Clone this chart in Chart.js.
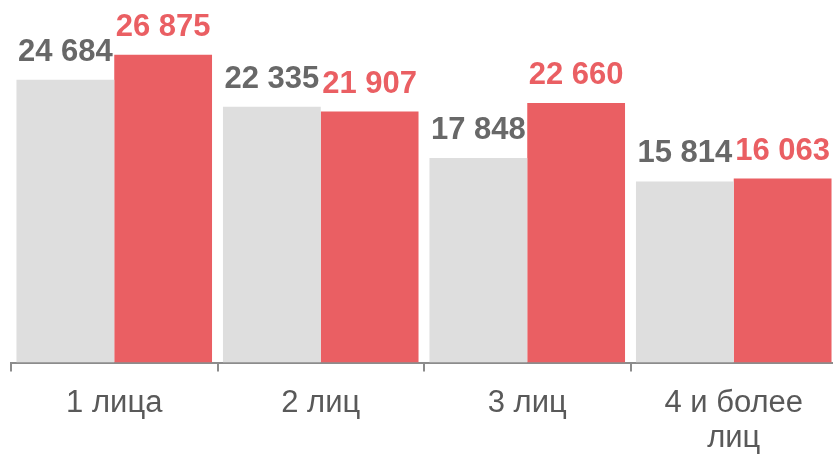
<!DOCTYPE html>
<html>
<head>
<meta charset="utf-8">
<script src="https://cdn.jsdelivr.net/npm/chart.js@4"></script>
<style>
html,body{margin:0;padding:0;background:#fff;overflow:hidden;}
#wrap{width:837px;height:454px;position:relative;}
</style>
</head>
<body>
<div id="wrap"><canvas id="c"></canvas></div>
<script>
const categories = ['1 лица', '2 лиц', '3 лиц', ['4 и более', 'лиц']];
const seriesGrey = [24684, 22335, 17848, 15814];
const seriesRed = [26875, 21907, 22660, 16063];
const yMax = 31650;

const greyBar = '#dedede';
const redBar = '#ea5f63';
const greyText = '#686868';
const redText = '#ea5f63';

function fmt(v){ return String(v).replace(/\B(?=(\d{3})+(?!\d))/g, ' '); }

const valueLabels = {
  id: 'valueLabels',
  afterDatasetsDraw(chart){
    const ctx = chart.ctx;
    ctx.save();
    ctx.font = 'bold 31px "Liberation Sans", Arial, sans-serif';
    ctx.textAlign = 'center';
    ctx.textBaseline = 'alphabetic';
    chart.data.datasets.forEach((ds, i) => {
      const meta = chart.getDatasetMeta(i);
      ctx.fillStyle = ds.labelColor;
      meta.data.forEach((bar, j) => {
        ctx.fillText(fmt(ds.data[j]), bar.x, bar.y - 19);
      });
    });
    ctx.restore();
  }
};

new Chart(document.getElementById('c'), {
  type: 'bar',
  data: {
    labels: categories,
    datasets: [
      { data: seriesGrey, backgroundColor: greyBar, labelColor: greyText, barPercentage: 1, categoryPercentage: 0.947 },
      { data: seriesRed, backgroundColor: redBar, labelColor: redText, barPercentage: 1, categoryPercentage: 0.947 }
    ]
  },
  options: {
    responsive: true,
    maintainAspectRatio: false,
    animation: false,
    layout: { padding: { left: 11, right: 0, top: 0, bottom: -17 } },
    plugins: { legend: { display: false }, tooltip: { enabled: false } },
    scales: {
      x: {
        grid: { display: true, drawOnChartArea: false, drawTicks: true, tickLength: 9, color: '#8c8c8c', lineWidth: 2, offset: true },
        border: { display: true, color: '#8c8c8c', width: 2 },
        ticks: {
          color: '#595959',
          padding: 15,
          maxRotation: 0,
          autoSkip: false,
          font: { family: '"Liberation Sans", Arial, sans-serif', size: 31, lineHeight: 1.12 }
        }
      },
      y: { display: false, min: 0, max: yMax }
    }
  },
  plugins: [valueLabels]
});
</script>
</body>
</html>
